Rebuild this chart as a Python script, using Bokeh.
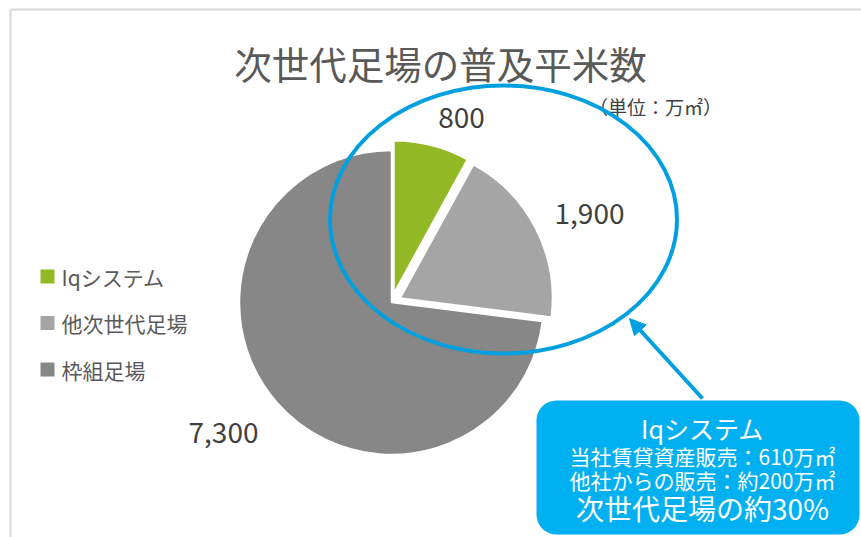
import math
from bokeh.plotting import figure
from bokeh.models import Range1d, Arrow, NormalHead
from bokeh.core.properties import value
from bokeh.embed import file_html
from bokeh.resources import INLINE

# ---- data ----
categories = ["Iqシステム", "他次世代足場", "枠組足場"]
values = [800, 1900, 7300]
value_labels = ["800", "1,900", "7,300"]
colors = ["#92B826", "#A5A5A5", "#878787"]
title_text = "次世代足場の普及平米数"
unit_text = "（単位：万㎡）"
callout_lines = ["Iqシステム", "当社賃貸資産販売：610万㎡", "他社からの販売：約200万㎡", "次世代足場の約30%"]

FONT = value("Noto Sans CJK JP")
W, H = 861, 537

p = figure(width=W, height=H, output_backend="svg", toolbar_location=None,
           x_range=Range1d(0, W), y_range=Range1d(-H, 0),
           min_border=0, outline_line_color=None)
p.axis.visible = False
p.grid.visible = False
p.background_fill_color = "white"
p.border_fill_color = "white"

def Y(sy):
    return -sy

# chart frame (top & left border)
p.segment(x0=[10, 10], y0=[Y(9), Y(9)], x1=[W, 10], y1=[Y(9), Y(H)],
          line_color="#D9D9D9", line_width=2)

# title
p.text(x=[440], y=[Y(62)], text=[title_text], text_font=FONT, text_font_size="37.5px",
       text_color="#595959", text_align="center", text_baseline="middle")
p.text(x=[655], y=[Y(106)], text=[unit_text], text_font=FONT, text_font_size="19px",
       text_color="#404040", text_align="center", text_baseline="middle")

# pie
cx, cy, R = 391, 302, 152
explode = [10, 10, 0]
total = sum(values)
cum = 0
for i, v in enumerate(values):
    a0 = math.pi / 2 - 2 * math.pi * cum / total
    cum += v
    a1 = math.pi / 2 - 2 * math.pi * cum / total
    mid = (a0 + a1) / 2
    ox = cx + explode[i] * math.cos(mid)
    oy = Y(cy) + explode[i] * math.sin(mid)
    p.wedge(x=[ox], y=[oy], radius=R, start_angle=a0, end_angle=a1, direction="clock",
            fill_color=colors[i], line_color="white", line_width=1.5)

# data labels
label_pos = [(461, 117), (589, 213), (223, 432)]
for (lx, ly), t in zip(label_pos, value_labels):
    p.text(x=[lx], y=[Y(ly)], text=[t], text_font=FONT, text_font_size="28px",
           text_color="#404040", text_align="center", text_baseline="middle")

# legend
for i, (c, col) in enumerate(zip(categories, colors)):
    ly = 276 + 46.5 * i
    p.scatter(x=[47], y=[Y(ly)], marker="square", size=14, fill_color=col, line_color=None)
    p.text(x=[61], y=[Y(ly)], text=[c], text_font=FONT, text_font_size="21px",
           text_color="#595959", text_align="left", text_baseline="middle")

# highlight ellipse
p.ellipse(x=[503], y=[Y(219)], width=347, height=268, fill_color=None,
          line_color="#00A0E0", line_width=4)

# arrow
p.add_layout(Arrow(end=NormalHead(size=16, fill_color="#00A0E0", line_color="#00A0E0"),
                   x_start=702, y_start=Y(398), x_end=629, y_end=Y(318),
                   line_color="#00A0E0", line_width=4))

# callout box
p.quad(left=[536], right=[859], top=[Y(400)], bottom=[Y(534)], border_radius=20,
       fill_color="#00B0F0", line_color=None)
cl_y = [427, 455, 479, 507]
cl_size = ["25px", "21px", "21px", "28px"]
for t, ty, fs in zip(callout_lines, cl_y, cl_size):
    p.text(x=[702], y=[Y(ty)], text=[t], text_font=FONT, text_font_size=fs,
           text_color="white", text_align="center", text_baseline="middle")

open("out.html", "w").write(file_html(p, INLINE))
